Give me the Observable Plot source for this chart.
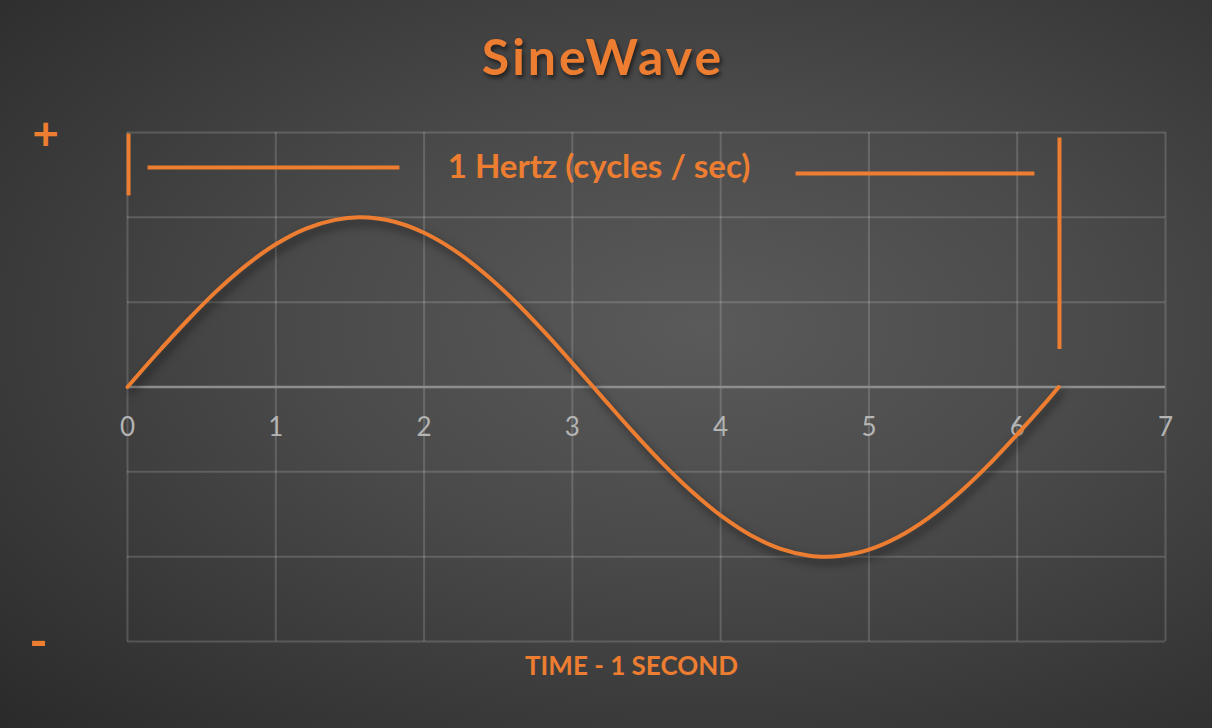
<!DOCTYPE html>
<html>
<head>
<meta charset="utf-8">
<script src="https://cdn.jsdelivr.net/npm/d3@7"></script>
<script src="https://cdn.jsdelivr.net/npm/@observablehq/plot@0.6"></script>
<style>
  html, body { margin: 0; padding: 0; }
  body {
    width: 1212px; height: 728px; overflow: hidden;
    background: radial-gradient(ellipse farthest-corner at 58% 45%, #5a5a5a 0%, #4a4a4a 40%, #2a2a2a 100%);
    font-family: Lato, "Noto Sans", sans-serif;
  }
  #title {
    height: 100px; width: 1212px; position: relative;
  }
  #title span {
    position: absolute; left: 0; right: 0; top: 26px; text-align: center;
    font-weight: 700; font-size: 50px; line-height: 60px; letter-spacing: 3px;
    color: #ED7D31; text-shadow: 2px 3px 4px rgba(0,0,0,0.55);
    padding-right: 6px;
  }
</style>
</head>
<body>
<div id="title"><span>SineWave</span></div>
<div id="chart"></div>
<script>
// Sine wave, one cycle
const timeValues = [0, 0.2, 0.4, 0.6, 0.8, 1.0, 1.2, 1.4, 1.57, 1.8, 2.0, 2.2, 2.4, 2.6, 2.8, 3.0, 3.2, 3.4, 3.6, 3.8, 4.0, 4.2, 4.4, 4.6, 4.71, 4.8, 5.0, 5.2, 5.4, 5.6, 5.8, 6.0, 6.2, 6.28];
const amplitudeValues = [0, 0.199, 0.389, 0.565, 0.717, 0.841, 0.932, 0.985, 1.0, 0.974, 0.909, 0.808, 0.675, 0.516, 0.335, 0.141, -0.058, -0.256, -0.443, -0.612, -0.757, -0.872, -0.952, -0.994, -1.0, -0.996, -0.959, -0.883, -0.773, -0.631, -0.465, -0.279, -0.083, 0.0];

const xTicks = [0, 1, 2, 3, 4, 5, 6, 7];
const yTicks = [-1.5, -1, -0.5, 0, 0.5, 1, 1.5];

// Annotation segments (period marker)
const segX1 = [0.007, 0.135, 4.505, 6.285];
const segY1 = [1.494, 1.294, 1.259, 1.47];
const segX2 = [0.007, 1.834, 6.116, 6.285];
const segY2 = [1.129, 1.294, 1.259, 0.224];

const annotationText = "1 Hertz (cycles / sec)";
const annotationX = 3.18;
const annotationY = 1.294;
const axisLabel = "TIME - 1 SECOND";

const orange = "#ED7D31";

const wave = timeValues.map((t, i) => ({t, a: amplitudeValues[i]}));
const segments = segX1.map((x1, i) => ({x1, y1: segY1[i], x2: segX2[i], y2: segY2[i]}));

const chart = Plot.plot({
  width: 1212,
  height: 628,
  marginTop: 32,
  marginBottom: 87,
  marginLeft: 127,
  marginRight: 47,
  style: {background: "transparent", fontFamily: "Lato, 'Noto Sans', sans-serif", overflow: "visible"},
  x: {domain: [0, 7], axis: null},
  y: {domain: [-1.5, 1.5], axis: null},
  marks: [
    Plot.ruleX(xTicks, {stroke: "#ffffff", strokeOpacity: 0.16, strokeWidth: 2}),
    Plot.ruleY(yTicks, {stroke: "#ffffff", strokeOpacity: 0.16, strokeWidth: 2}),
    Plot.ruleY([0], {stroke: "#8e8e8e", strokeWidth: 2.5}),
    Plot.text(xTicks, {x: d => d, y: 0, dy: 41, text: d => String(d), fill: "#b4b4b4", fontSize: 26}),
    Plot.line(wave, {x: "t", y: "a", stroke: orange, strokeWidth: 4, curve: "catmull-rom"}),
    Plot.link(segments, {x1: "x1", y1: "y1", x2: "x2", y2: "y2", stroke: orange, strokeWidth: 4, strokeLinecap: "butt"}),
    Plot.text([annotationText], {x: annotationX, y: annotationY, text: d => d, fill: orange, fontSize: 33, fontWeight: 700}),
    Plot.text(["+"], {frameAnchor: "top-left", textAnchor: "middle", dx: -82, dy: 3, lineAnchor: "middle", text: d => d, fill: orange, fontSize: 46, fontWeight: 700}),
    Plot.text(["-"], {frameAnchor: "bottom-left", textAnchor: "middle", dx: -89, dy: 1, lineAnchor: "middle", text: d => d, fill: orange, fontSize: 50, fontWeight: 700}),
    Plot.text([axisLabel], {frameAnchor: "bottom", dx: -15, dy: 25, lineAnchor: "middle", text: d => d, fill: orange, fontSize: 26, fontWeight: 700})
  ]
});

document.getElementById("chart").appendChild(chart);
d3.select(chart).selectAll("g[aria-label='line'] path")
  .style("filter", "drop-shadow(3px 5px 4px rgba(0,0,0,0.55))");
</script>
</body>
</html>
